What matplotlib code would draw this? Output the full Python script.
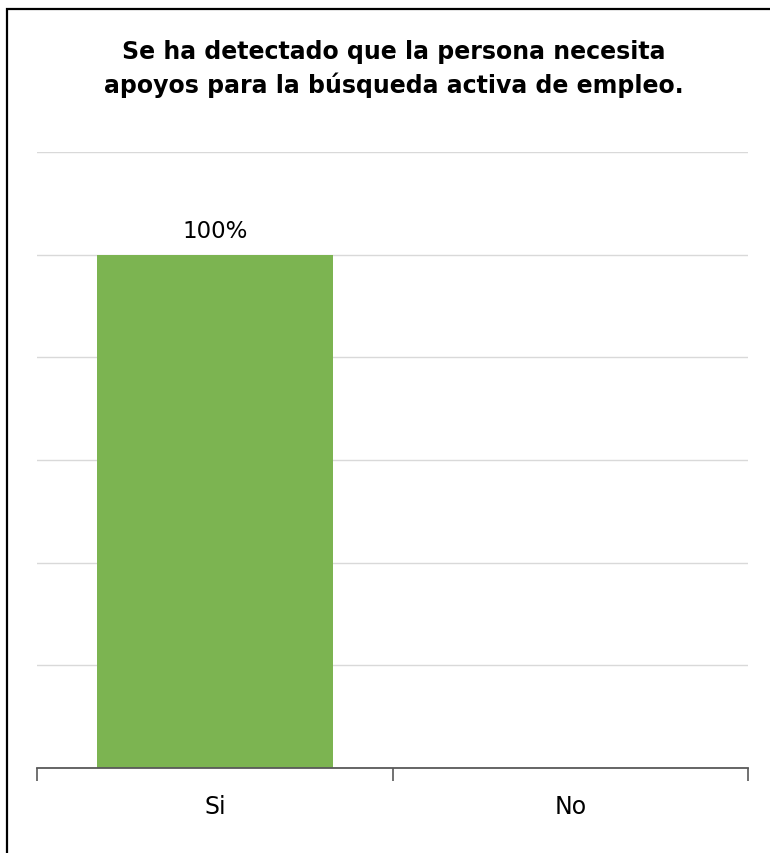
import matplotlib.pyplot as plt
from matplotlib.patches import Rectangle

categorias = ["Si", "No"]
porcentajes = [1.0, 0.0]
titulo = "Se ha detectado que la persona necesita\napoyos para la búsqueda activa de empleo."

fig = plt.figure(figsize=(7.7, 8.54), dpi=100)
ax = fig.add_axes([0.048, 0.0995, 0.924, 0.7213])

x = list(range(len(categorias)))
barras = ax.bar(x, porcentajes, width=0.663, color="#7cb451", zorder=2)

# etiqueta solo para las barras con valor
for b, v in zip(barras, porcentajes):
    if v > 0:
        ax.text(b.get_x() + b.get_width() / 2, v + 0.025, f"{v:.0%}",
                ha="center", va="bottom", fontsize=16.5, color="black")

ax.set_xlim(-0.5, len(categorias) - 0.5)
ax.set_ylim(0, 1.2)
ax.set_yticks([0.2 * i for i in range(7)])
ax.yaxis.grid(True, color="#d9d9d9", linewidth=1, zorder=0)
ax.set_axisbelow(True)
ax.tick_params(axis="y", left=False, labelleft=False)

ax.set_xticks(x)
ax.set_xticklabels(categorias, fontsize=17)
ax.tick_params(axis="x", which="major", length=0, pad=19)
ax.set_xticks([i - 0.5 for i in range(len(categorias) + 1)], minor=True)
ax.tick_params(axis="x", which="minor", length=9, width=1.2, color="#595959", direction="out")

for lado in ["top", "right", "left"]:
    ax.spines[lado].set_visible(False)
ax.spines["bottom"].set_color("#595959")
ax.spines["bottom"].set_linewidth(1.3)
ax.spines["bottom"].set_zorder(3)

fig.text(0.512, 0.919, titulo, ha="center", va="center", fontsize=17,
         fontweight="bold", linespacing=1.4)

# marco del gráfico
fig.patches.append(Rectangle((7 / 770, -0.1), 1.2, 1 - 10 / 854 + 0.1,
                             transform=fig.transFigure, fill=False,
                             edgecolor="black", linewidth=1.6))

fig.savefig("out.png", dpi=100)
